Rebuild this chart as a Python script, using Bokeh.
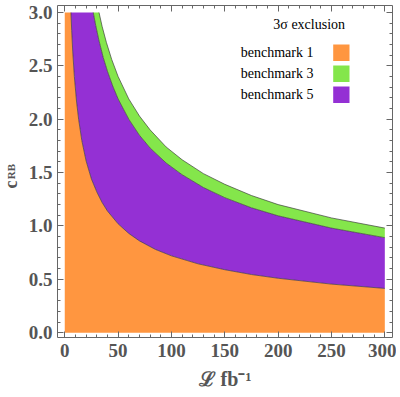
from bokeh.plotting import figure
from bokeh.models import Range1d, LinearAxis, Label, BoxAnnotation, FixedTicker, NumeralTickFormatter, Title
from bokeh.embed import file_html
from bokeh.resources import INLINE

# ---- data ----
# boundary of the benchmark 1 exclusion region (orange)
lumi_b1 = [5.8, 6.5, 7.5, 9, 11, 13, 16, 20, 25, 30, 35, 40, 50, 60, 70, 85, 100, 125, 150, 175, 200, 250, 300]
crb_b1 = [3.00, 2.83, 2.63, 2.40, 2.17, 2.00, 1.80, 1.61, 1.44, 1.32, 1.22, 1.14, 1.02, 0.93, 0.86, 0.78, 0.72, 0.645, 0.59, 0.545, 0.51, 0.455, 0.415]
# boundary of the benchmark 5 exclusion region (purple)
lumi_b5 = [26.7, 29, 32, 36, 40, 45, 50, 60, 70, 80, 95, 110, 130, 150, 175, 200, 250, 300]
crb_b5 = [3.00, 2.88, 2.74, 2.58, 2.45, 2.31, 2.19, 2.00, 1.85, 1.73, 1.59, 1.48, 1.36, 1.265, 1.17, 1.095, 0.98, 0.89]
# boundary of the benchmark 3 exclusion region (green)
lumi_b3 = [32.1, 35, 39, 44, 50, 60, 70, 80, 95, 110, 130, 150, 175, 200, 250, 300]
crb_b3 = [3.00, 2.87, 2.72, 2.56, 2.40, 2.19, 2.03, 1.90, 1.74, 1.62, 1.49, 1.39, 1.285, 1.20, 1.075, 0.98]
lumi_lim = [0, 300]
crb_lim = [0.0, 3.0]

x_ticks = [0, 50, 100, 150, 200, 250, 300]
x_minor = [v for v in range(-10, 311, 10) if v % 50 != 0]
y_ticks = [0.0, 0.5, 1.0, 1.5, 2.0, 2.5, 3.0]
y_minor = [round(0.1 * i, 1) for i in range(-1, 31) if i % 5 != 0]

legend_title = "3σ exclusion"
legend_names = ["benchmark 1", "benchmark 3", "benchmark 5"]
col_b1, col_b3, col_b5 = "#FF9640", "#84E64B", "#9430D4"
legend_colors = [col_b1, col_b3, col_b5]

W, H = 396, 395
FL, FR, FT, FB = 57, 392, 5, 337  # frame edges in canvas px

x0, x1 = -6.8, 307.2
y0, y1 = -0.045, 3.065

p = figure(width=W, height=H, output_backend="svg", toolbar_location=None,
           x_range=Range1d(x0, x1), y_range=Range1d(y0, y1),
           min_border_left=FL, min_border_right=W - FR, min_border_top=FT, min_border_bottom=H - FB,
           background_fill_color="white", border_fill_color="white")
p.xgrid.visible = False
p.ygrid.visible = False
p.outline_line_color = None

# regions
orange_x = [lumi_lim[0], lumi_lim[0]] + lumi_b1 + [lumi_lim[1]]
orange_y = [crb_lim[0], crb_lim[1]] + crb_b1 + [crb_lim[0]]
purple_x = lumi_b5 + lumi_b1[::-1]
purple_y = crb_b5 + crb_b1[::-1]
green_x = lumi_b3 + lumi_b5[::-1]
green_y = crb_b3 + crb_b5[::-1]
p.patch(orange_x, orange_y, fill_color=col_b1, line_color=None)
p.patch(purple_x, purple_y, fill_color=col_b5, line_color=None)
p.patch(green_x, green_y, fill_color=col_b3, line_color=None)
for lx, ly in [(lumi_b1, crb_b1), (lumi_b5, crb_b5), (lumi_b3, crb_b3)]:
    p.line(lx, ly, line_color="#3a3a3a", line_alpha=0.75, line_width=0.9)

ax_col = "#666666"
lab_col = "#555555"

# frame axes on top and right: ticks only (no labels)
for side, major, minor in [("above", x_ticks, x_minor), ("right", y_ticks, y_minor)]:
    for tks, tin, show_line in [(minor, 3, True), (major, 6, False)]:
        ax = LinearAxis(ticker=FixedTicker(ticks=[], minor_ticks=tks))
        ax.major_label_standoff = 0
        ax.axis_line_color = ax_col if show_line else None
        ax.major_tick_line_color = None
        ax.minor_tick_line_color = ax_col
        ax.minor_tick_in = tin
        ax.minor_tick_out = 0
        p.add_layout(ax, side)

bx = p.below[0]
ly_ax = p.left[0]
bx.ticker = FixedTicker(ticks=x_ticks, minor_ticks=x_minor)
ly_ax.ticker = FixedTicker(ticks=y_ticks, minor_ticks=y_minor)
ly_ax.formatter = NumeralTickFormatter(format="0.0")
for ax in (bx, ly_ax):
    ax.axis_line_color = ax_col
    ax.major_tick_line_color = ax_col
    ax.minor_tick_line_color = ax_col
    ax.major_tick_in = 6
    ax.major_tick_out = 0
    ax.minor_tick_in = 3
    ax.minor_tick_out = 0
    ax.major_label_text_font = "Liberation Serif"
    ax.major_label_text_font_style = "bold"
    ax.major_label_text_font_size = "19px"
    ax.major_label_text_color = lab_col

bx.major_label_standoff = 6
ly_ax.major_label_standoff = 5
bx.axis_label = "ℒ fb⁻¹"
bx.axis_label_text_font = "Liberation Serif"
bx.axis_label_text_font_style = "bold"
bx.axis_label_text_font_size = "20px"
bx.axis_label_text_color = lab_col
bx.axis_label_standoff = 8

# y axis label c_RB: subscript as the axis label, "c" as a zero-width title just outside it
ly_ax.axis_label = "RB"
ly_ax.axis_label_text_font = "Liberation Serif"
ly_ax.axis_label_text_font_style = "bold"
ly_ax.axis_label_text_font_size = "11px"
ly_ax.axis_label_text_color = lab_col
ly_ax.axis_label_standoff = 9
p.add_layout(Title(text="c", align="left", vertical_align="bottom", offset=FB - 188, standoff=-38,
                   text_font="Liberation Serif", text_font_style="bold", text_font_size="18px",
                   text_color=lab_col), "left")

# legend
p.add_layout(Label(x=308.7 - FL, y=FB - 24, x_units="screen", y_units="screen", text=legend_title,
                   text_align="center", text_baseline="middle", text_font="Liberation Serif",
                   text_font_size="14px", text_color="black"))
for i, (name, col) in enumerate(zip(legend_names, legend_colors)):
    cy = 52.3 + 21 * i
    p.add_layout(Label(x=313 - FL, y=FB - cy, x_units="screen", y_units="screen", text=name,
                       text_align="right", text_baseline="middle", text_font="Liberation Serif",
                       text_font_size="14px", text_color="black"))
    p.add_layout(BoxAnnotation(left=332.7 - FL, right=349 - FL, top=FB - cy + 8.3, bottom=FB - cy - 8.3,
                               left_units="screen", right_units="screen", top_units="screen",
                               bottom_units="screen", fill_color=col, fill_alpha=1.0, line_color=None))

open("out.html", "w").write(file_html(p, INLINE))
